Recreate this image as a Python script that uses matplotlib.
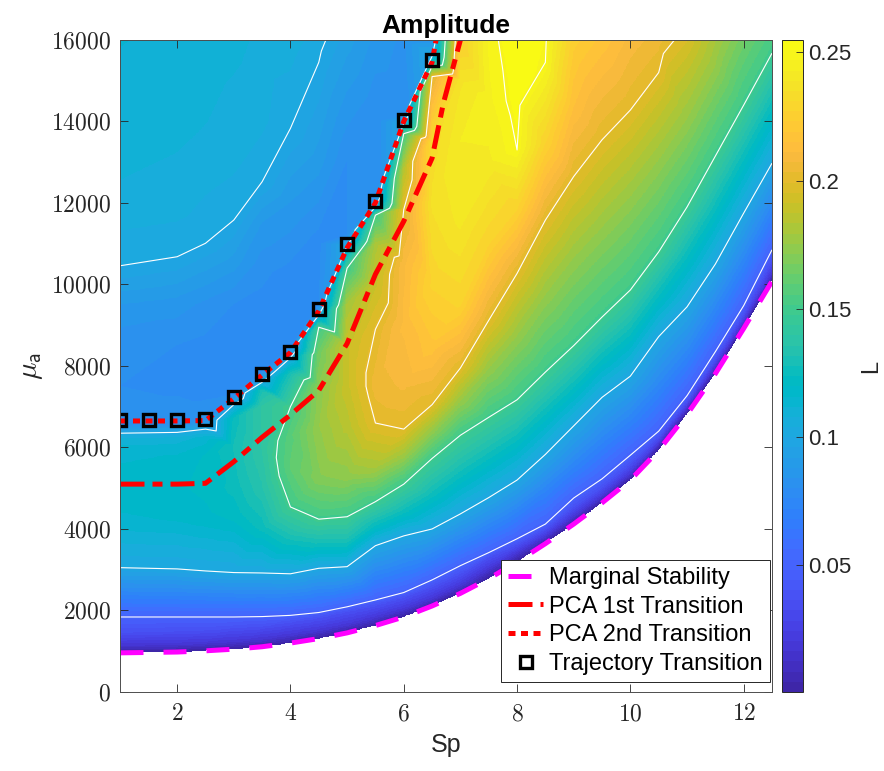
import numpy as np
import matplotlib
matplotlib.use('Agg')
import matplotlib.pyplot as plt
import matplotlib.tri as mtri
from matplotlib.colors import ListedColormap
from matplotlib.ticker import FuncFormatter

plt.rcParams['font.family'] = ['Liberation Sans', 'DejaVu Sans']
plt.rcParams['mathtext.fontset'] = 'cm'

MU_TOP = 16000

# Marginal stability boundary (L = 0 along it, nothing below)
ms_sp = [1, 2, 2.5, 3, 3.5, 4, 4.5, 5, 5.5, 6, 6.5, 7, 7.5, 8, 8.5, 9, 9.5, 10, 10.5, 11, 11.5, 12, 12.5]
ms_mu = [960, 980, 1010, 1050, 1110, 1200, 1310, 1450, 1630, 1840, 2110, 2420, 2780, 3190, 3640, 4120,
         4640, 5200, 5930, 6810, 7810, 8920, 10080]

# PCA transitions
pca1_sp = [1, 2, 2.5, 3, 3.5, 4, 4.5, 5, 5.5, 6, 6.5, 6.7, 7.0]
pca1_mu = [5100, 5100, 5120, 5650, 6250, 6800, 7400, 8550, 10250, 11550, 13100, 14450, 16000]
pca2_sp = [1, 1.5, 2, 2.5, 3, 3.5, 4, 4.5, 5, 5.5, 6, 6.5, 6.57]
pca2_mu = [6650, 6650, 6650, 6660, 7200, 7780, 8330, 9350, 10900, 12000, 14000, 15450, 16000]

# Trajectory transition points
traj_sp = [1, 1.5, 2, 2.5, 3, 3.5, 4, 4.5, 5, 5.5, 6, 6.5]
traj_mu = [6675, 6675, 6675, 6700, 7240, 7800, 8340, 9400, 10990, 12050, 14040, 15510]

# Amplitude L sampled along the same Sp columns as the boundary (knots above it)
field_mu = [
    [1150, 1450, 1840, 3050, 4200, 5000, 5800, 6200, 6350, 6550, 7500, 8500, 9500, 10460, 12000, 14000, 16000],
    [1170, 1470, 1840, 3020, 4200, 5000, 5800, 6200, 6370, 6560, 7500, 8500, 9500, 10680, 12000, 14000, 16000],
    [1200, 1500, 1840, 2970, 4200, 5000, 5800, 6250, 6450, 6650, 7500, 8500, 9500, 10500, 11010, 12500, 14000, 16000],
    [1240, 1550, 1840, 2930, 4200, 5000, 6000, 6700, 7050, 7300, 8500, 9500, 10500, 11580, 13000, 14500, 16000],
    [1300, 1600, 1850, 2920, 4000, 5000, 6000, 7000, 7400, 7600, 7850, 9000, 10500, 11500, 12520, 14000, 16000],
    [1390, 1700, 1880, 2900, 3800, 4540, 5500, 6300, 7000, 7800, 8200, 8450, 10000, 12000, 13830, 16000],
    [1500, 1800, 1950, 3035, 3700, 4240, 5200, 6500, 7500, 8300, 8950, 9250, 9500, 11000, 13000, 15450, 16000],
    [1640, 1950, 2090, 3075, 3700, 4300, 5200, 6500, 7500, 8500, 9500, 10400, 10950, 11200, 13000, 16000],
    [1820, 2100, 2258, 3590, 4100, 4670, 5500, 6600, 7500, 8900, 10000, 11000, 11700, 11900, 12200, 14000, 16000],
    [2020, 2300, 2440, 3830, 4400, 5100, 5800, 6450, 7500, 9000, 10500, 11840, 12800, 13700, 13950, 14200, 16000],
    [2280, 2560, 2750, 4000, 4800, 5730, 6400, 7050, 8500, 10000, 12000, 13500, 15100, 15350, 15600, 16000],
    [2600, 2880, 3100, 4370, 5300, 6300, 7100, 7950, 9500, 11500, 13500, 15000, 16000],
    [3010, 3280, 3420, 4770, 5750, 6740, 7900, 9120, 11000, 13000, 14500, 16000],
    [3400, 3600, 3760, 5200, 6200, 7170, 8700, 10270, 11800, 13300, 14500, 16000],
    [3800, 3980, 4120, 5000, 5830, 6850, 7850, 9700, 11580, 13500, 15450, 16000],
    [4300, 4520, 4760, 5600, 6530, 7500, 8500, 10600, 12650, 14300, 16000],
    [4790, 5000, 5230, 6200, 7230, 8200, 9200, 11350, 13550, 16000],
    [5340, 5570, 5810, 6750, 7750, 8800, 9865, 12100, 14280, 16000],
    [6070, 6230, 6400, 7520, 8720, 9750, 10800, 13000, 15200, 16000],
    [6950, 7100, 7270, 8330, 9450, 10700, 11900, 14000, 16000],
    [7960, 8150, 8350, 9400, 10500, 11850, 13150, 15300, 16000],
    [9050, 9250, 9480, 10600, 11750, 13100, 14400, 16000],
    [10250, 10550, 10850, 11900, 12975, 14350, 15674, 16000],
]
field_L = [
    [.018, .036, .05, .10, .115, .118, .115, .11, .10, .083, .08, .081, .088, .10, .107, .11, .112],
    [.018, .036, .05, .10, .116, .119, .116, .11, .10, .083, .079, .08, .086, .10, .106, .109, .111],
    [.018, .036, .05, .10, .118, .121, .12, .113, .10, .083, .078, .079, .083, .094, .10, .105, .108, .11],
    [.018, .036, .05, .10, .12, .125, .128, .125, .10, .08, .077, .08, .09, .10, .105, .107, .109],
    [.018, .036, .05, .10, .125, .135, .14, .14, .13, .10, .08, .077, .082, .088, .10, .105, .107],
    [.018, .036, .05, .10, .13, .15, .16, .158, .15, .13, .10, .08, .077, .088, .10, .106],
    [.018, .036, .05, .10, .13, .15, .17, .175, .172, .165, .15, .10, .08, .078, .09, .10, .102],
    [.018, .036, .05, .10, .13, .15, .172, .185, .19, .19, .18, .15, .10, .08, .08, .094],
    [.018, .036, .05, .10, .125, .15, .18, .20, .205, .20, .19, .18, .15, .10, .08, .08, .087],
    [.018, .036, .05, .10, .125, .15, .178, .20, .208, .212, .21, .20, .185, .15, .10, .08, .083],
    [.018, .036, .05, .10, .125, .15, .175, .20, .218, .228, .236, .232, .20, .15, .10, .085],
    [.018, .036, .05, .10, .125, .15, .175, .20, .228, .24, .243, .238, .225],
    [.018, .036, .05, .10, .125, .15, .175, .20, .228, .242, .246, .2475],
    [.018, .036, .05, .10, .125, .15, .175, .20, .227, .25, .2525, .2549],
    [.018, .036, .05, .075, .10, .125, .15, .175, .20, .228, .25, .251],
    [.018, .036, .05, .075, .10, .125, .15, .175, .20, .215, .225],
    [.018, .036, .05, .075, .10, .125, .15, .175, .20, .218],
    [.018, .036, .05, .075, .10, .125, .15, .175, .20, .21],
    [.018, .036, .05, .075, .10, .125, .15, .175, .20, .205],
    [.018, .036, .05, .075, .10, .125, .15, .175, .196],
    [.018, .036, .05, .075, .10, .125, .15, .175, .18],
    [.018, .036, .05, .075, .10, .125, .15, .165],
    [.018, .036, .05, .075, .10, .125, .15, .153],
]
contour_levels = [0.05, 0.10, 0.15, 0.20, 0.25]
cbar_ticks = [0.05, 0.10, 0.15, 0.20, 0.25]
cbar_labels = ['0.05', '0.1', '0.15', '0.2', '0.25']

parula = ListedColormap([
    [0.2422, 0.1504, 0.6603], [0.2504, 0.1650, 0.7076], [0.2578, 0.1818, 0.7511], [0.2647, 0.1978, 0.7952],
    [0.2706, 0.2147, 0.8364], [0.2751, 0.2342, 0.8710], [0.2783, 0.2559, 0.8991], [0.2803, 0.2782, 0.9221],
    [0.2813, 0.3006, 0.9414], [0.2810, 0.3228, 0.9579], [0.2795, 0.3447, 0.9717], [0.2760, 0.3667, 0.9829],
    [0.2699, 0.3892, 0.9906], [0.2602, 0.4123, 0.9952], [0.2440, 0.4358, 0.9988], [0.2206, 0.4603, 0.9973],
    [0.1963, 0.4847, 0.9892], [0.1834, 0.5074, 0.9798], [0.1786, 0.5289, 0.9682], [0.1764, 0.5499, 0.9520],
    [0.1687, 0.5703, 0.9359], [0.1540, 0.5902, 0.9218], [0.1460, 0.6091, 0.9079], [0.1380, 0.6276, 0.8973],
    [0.1248, 0.6459, 0.8883], [0.1113, 0.6635, 0.8763], [0.0952, 0.6798, 0.8598], [0.0689, 0.6948, 0.8394],
    [0.0297, 0.7082, 0.8163], [0.0036, 0.7203, 0.7917], [0.0067, 0.7312, 0.7660], [0.0433, 0.7411, 0.7394],
    [0.0964, 0.7500, 0.7120], [0.1408, 0.7584, 0.6842], [0.1717, 0.7670, 0.6554], [0.1938, 0.7758, 0.6251],
    [0.2161, 0.7843, 0.5923], [0.2470, 0.7918, 0.5567], [0.2906, 0.7973, 0.5188], [0.3406, 0.8008, 0.4789],
    [0.3909, 0.8029, 0.4354], [0.4456, 0.8024, 0.3909], [0.5044, 0.7993, 0.3480], [0.5616, 0.7942, 0.3045],
    [0.6174, 0.7876, 0.2612], [0.6720, 0.7793, 0.2227], [0.7242, 0.7698, 0.1910], [0.7738, 0.7598, 0.1646],
    [0.8203, 0.7498, 0.1535], [0.8634, 0.7406, 0.1596], [0.9035, 0.7330, 0.1774], [0.9393, 0.7288, 0.2100],
    [0.9728, 0.7298, 0.2394], [0.9956, 0.7434, 0.2371], [0.9970, 0.7659, 0.2199], [0.9952, 0.7893, 0.2028],
    [0.9892, 0.8136, 0.1885], [0.9786, 0.8386, 0.1766], [0.9676, 0.8639, 0.1643], [0.9610, 0.8890, 0.1537],
    [0.9597, 0.9135, 0.1423], [0.9628, 0.9373, 0.1265], [0.9691, 0.9606, 0.1064], [0.9769, 0.9839, 0.0805],
], name='parula')

# knots per column: the boundary point first, then the samples above it
pts_sp, pts_mu, pts_L, pts_t, columns = [], [], [], [], []
for s, m0, mus, ls in zip(ms_sp, ms_mu, field_mu, field_L):
    col = []
    for m, l in zip([m0] + mus, [0.0] + ls):
        col.append(len(pts_sp))
        pts_sp.append(s)
        pts_mu.append(m)
        pts_L.append(l)
        pts_t.append((m - m0) / (MU_TOP - m0))  # relative height between boundary and top
    columns.append(col)

# stitch neighbouring columns into triangle strips by relative height
triangles = []
for a, b in zip(columns[:-1], columns[1:]):
    ia, ib = 0, 0
    while ia < len(a) - 1 or ib < len(b) - 1:
        if ib == len(b) - 1 or (ia < len(a) - 1 and pts_t[a[ia + 1]] <= pts_t[b[ib + 1]]):
            triangles.append([a[ia], a[ia + 1], b[ib]])
            ia += 1
        else:
            triangles.append([a[ia], b[ib + 1], b[ib]])
            ib += 1

pts_sp = np.array(pts_sp, float)
pts_mu = np.array(pts_mu, float)
pts_L = np.array(pts_L, float)
tri = mtri.Triangulation(pts_sp, pts_mu, triangles=np.array(triangles))
interp = mtri.LinearTriInterpolator(tri, pts_L)

nx, ny = 1100, 1100
gx = 1 + (np.arange(nx) + 0.5) * (11.5 / nx)
gy = (np.arange(ny) + 0.5) * (MU_TOP / ny)
GX, GY = np.meshgrid(gx, gy)
Z = interp(GX, GY)

fig = plt.figure(figsize=(8.84, 7.71), dpi=100)
ax = fig.add_axes([0.1363, 0.1025, 0.737, 0.8457])
cax = fig.add_axes([0.8846, 0.1025, 0.0238, 0.8457])

im = ax.imshow(Z, origin='lower', extent=[1, 12.5, 0, MU_TOP], aspect='auto',
               cmap=parula, vmin=0.0005, vmax=0.2549, interpolation='nearest', zorder=1)
ax.tricontour(tri, pts_L, levels=contour_levels, colors='white', linewidths=0.8, zorder=2)

ax.plot(ms_sp, ms_mu, color=(1, 0, 1), lw=3.6, linestyle=(0, (4.6, 4.0)),
        label='Marginal Stability', zorder=3)
ax.plot(pca1_sp, pca1_mu, color='red', lw=3.6, linestyle=(0, (4.8, 1.6, 2.0, 1.6)),
        label='PCA 1st Transition', zorder=3)
ax.plot(pca2_sp, pca2_mu, color='red', lw=3.6, linestyle=(0, (1.4, 1.1)),
        label='PCA 2nd Transition', zorder=4)
ax.plot(traj_sp, traj_mu, linestyle='none', marker='s', ms=8.5, mfc='none', mec='black', mew=2.4,
        label='Trajectory Transition', zorder=5)

ax.set_xlim(1, 12.5)
ax.set_ylim(0, MU_TOP)
ax.set_xticks([2, 4, 6, 8, 10, 12])
ax.set_yticks(np.arange(0, MU_TOP + 1, 2000))
tex_int = FuncFormatter(lambda v, p: f'${int(round(v))}$')
ax.xaxis.set_major_formatter(tex_int)
ax.yaxis.set_major_formatter(tex_int)
ax.tick_params(direction='in', top=True, right=True, length=5.5, width=0.6,
               color='#262626', labelcolor='#262626', labelsize=17)
ax.tick_params(axis='x', pad=8)
ax.tick_params(axis='y', pad=7)
for sp in ax.spines.values():
    sp.set_color('#4d4d4d')
    sp.set_linewidth(0.7)
    sp.set_zorder(6)

ax.set_xlabel('Sp', fontsize=18, color='#262626', labelpad=6)
ax.set_ylabel(r'$\mu_{\mathsf{a}}$', fontsize=21, color='#262626', labelpad=4)
ax.set_title('Amplitude', fontsize=19, fontweight='bold', pad=5)

leg = ax.legend(loc='lower right', bbox_to_anchor=(0.997, 0.0153), borderaxespad=0,
                fontsize=17, frameon=True, fancybox=False, framealpha=1,
                edgecolor='#262626', borderpad=0.3, labelspacing=0.28,
                handlelength=1.5, handletextpad=0.25)
leg.get_frame().set_linewidth(0.7)

cbar = fig.colorbar(im, cax=cax, ticks=cbar_ticks)
cbar.set_ticklabels(cbar_labels)
cax.tick_params(direction='in', length=5, width=0.6, color='#262626', labelcolor='#262626',
                labelsize=16, pad=4)
cbar.outline.set_edgecolor('#262626')
cbar.outline.set_linewidth(0.7)
cbar.set_label('L', fontsize=17, color='#262626', labelpad=6)

fig.savefig('out.png', dpi=100)
